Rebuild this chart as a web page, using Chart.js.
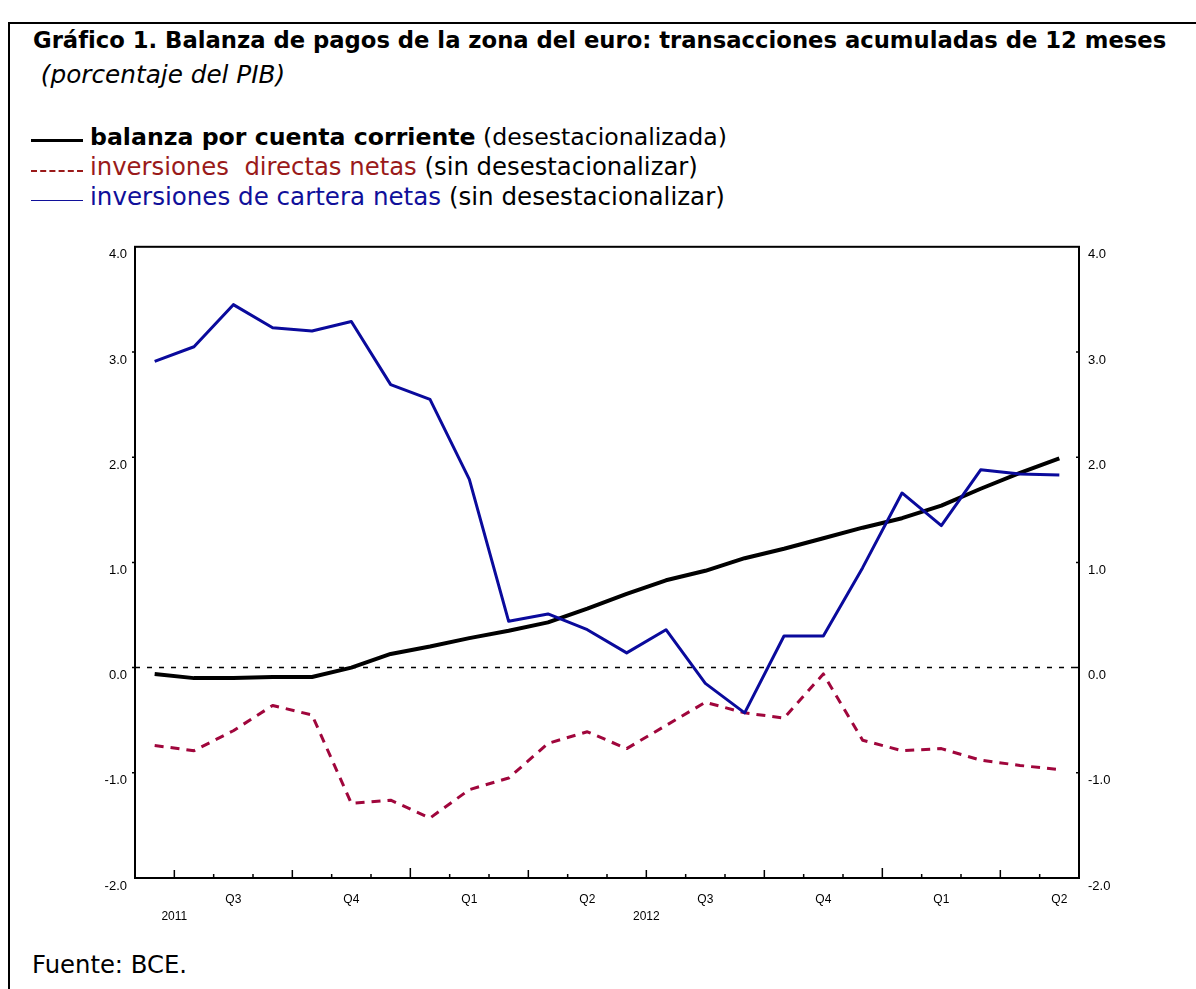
<!DOCTYPE html>
<html lang="es">
<head>
<meta charset="utf-8">
<title>Balanza de pagos de la zona del euro</title>
<script src="https://cdn.jsdelivr.net/npm/chart.js@4.4.0/dist/chart.umd.min.js"></script>
<style>
  html, body { margin: 0; padding: 0; background: #fff; }
  body { width: 1196px; height: 989px; position: relative; overflow: hidden; font-family: "DejaVu Sans", sans-serif; color: #000; }
  #frame { position: absolute; left: 8px; top: 22px; width: 1200px; height: 1000px; border-left: 2px solid #000; border-top: 2px solid #000; }
  .txt { position: absolute; white-space: nowrap; line-height: 30px; height: 30px; }
  #title { left: 33px; top: 25px; font-weight: bold; }
  #subtitle { left: 33px; top: 60px; font-style: italic; }
  .leg { left: 31px; }
  .swatch { display: inline-block; width: 52px; height: 0; vertical-align: middle; margin-right: 7px; }
  #footer { left: 32px; top: 950px; }
  #wrap { position: absolute; left: 0; top: 230px; width: 1196px; height: 720px; }
</style>
</head>
<body>
<div id="frame"></div>
<div id="title" class="txt" data-w="1133">Gráfico 1. Balanza de pagos de la zona del euro: transacciones acumuladas de 12 meses</div>
<div id="subtitle" class="txt" data-w="252">&nbsp;(porcentaje del PIB)</div>
<div class="txt leg" style="top:122px"><span class="swatch" style="border-top:3px solid #000"></span><span class="fit" data-w="637"><b>balanza por cuenta corriente</b> (desestacionalizada)</span></div>
<div class="txt leg" style="top:152px"><span class="swatch" style="border-top:2px dashed #9a1a1a"></span><span class="fit" data-w="608"><span style="color:#9a1a1a">inversiones&nbsp; directas netas</span> (sin desestacionalizar)</span></div>
<div class="txt leg" style="top:182px"><span class="swatch" style="border-top:1.5px solid #10109a"></span><span class="fit" data-w="635"><span style="color:#10109a">inversiones de cartera netas</span> (sin desestacionalizar)</span></div>
<div id="footer" class="txt" data-w="155">Fuente: BCE.</div>
<div id="wrap"><canvas id="grafico" width="1196" height="720"></canvas></div>

<script>
// meses: jun 2011 - may 2013
const months = [
  "Jun 2011", "Jul 2011", "Ago 2011", "Sep 2011", "Oct 2011", "Nov 2011", "Dic 2011",
  "Ene 2012", "Feb 2012", "Mar 2012", "Abr 2012", "May 2012", "Jun 2012",
  "Jul 2012", "Ago 2012", "Sep 2012", "Oct 2012", "Nov 2012", "Dic 2012",
  "Ene 2013", "Feb 2013", "Mar 2013", "Abr 2013", "May 2013"
];
const quarterLabels = ["", "", "Q3", "", "", "Q4", "", "", "Q1", "", "", "Q2",
                       "", "", "Q3", "", "", "Q4", "", "", "Q1", "", "", "Q2"];
const yearLabels = ["2011", "2012"];

const cuentaCorriente = [-0.06, -0.10, -0.10, -0.09, -0.09, 0.00, 0.13, 0.20, 0.28, 0.35, 0.43, 0.56,
                         0.70, 0.83, 0.92, 1.04, 1.13, 1.23, 1.33, 1.42, 1.54, 1.70, 1.85, 1.99];
const inversionesDirectas = [-0.74, -0.79, -0.60, -0.36, -0.45, -1.29, -1.26, -1.43, -1.16, -1.05, -0.72, -0.61,
                             -0.77, -0.55, -0.33, -0.43, -0.48, -0.06, -0.69, -0.79, -0.77, -0.88, -0.93, -0.97];
const inversionesCartera = [2.91, 3.05, 3.45, 3.23, 3.20, 3.29, 2.69, 2.55, 1.79, 0.44, 0.51, 0.36,
                            0.14, 0.36, -0.15, -0.43, 0.30, 0.30, 0.95, 1.66, 1.35, 1.88, 1.84, 1.83];

const yMin = -2, yMax = 4;

// ajustar tamaño de letra al ancho del original
function fitWidth(el, target) {
  let size = 20;
  el.style.fontSize = size + "px";
  for (let i = 0; i < 4; i++) {
    const w = el.getBoundingClientRect().width;
    size = size * target / w;
    el.style.fontSize = size + "px";
  }
}
document.querySelectorAll("[data-w]").forEach((el) => fitWidth(el, +el.dataset.w));

const tickFont = { family: "Liberation Sans", size: 12 };
const yFont = { family: "Liberation Sans", size: 13 };

const decoraciones = {
  id: "decoraciones",
  beforeDatasetsDraw(chart) {
    const { ctx, chartArea: a, scales: { y } } = chart;
    const y0 = y.getPixelForValue(0);
    ctx.save();
    ctx.strokeStyle = "#000";
    ctx.lineWidth = 1.5;
    ctx.setLineDash([5, 7]);
    ctx.beginPath();
    ctx.moveTo(a.left, y0);
    ctx.lineTo(a.right, y0);
    ctx.stroke();
    ctx.restore();
  },
  afterDraw(chart) {
    const { ctx, chartArea: a, scales: { x, y } } = chart;
    ctx.save();
    ctx.strokeStyle = "#000";
    ctx.lineWidth = 2;
    ctx.strokeRect(a.left, a.top, a.width, a.height);

    // marcas del eje x entre meses
    ctx.lineWidth = 1.5;
    for (let k = 1; k < months.length; k++) {
      const xb = (x.getPixelForValue(k - 1) + x.getPixelForValue(k)) / 2;
      const m = months[k].slice(0, 3);
      let len = 4;
      if (m === "Ene") len = 10;
      else if (m === "Abr" || m === "Jul" || m === "Oct") len = 8;
      ctx.beginPath();
      ctx.moveTo(xb, a.bottom);
      ctx.lineTo(xb, a.bottom - len);
      ctx.stroke();
    }

    // marcas del eje y
    for (let v = yMin + 1; v < yMax; v++) {
      const py = y.getPixelForValue(v);
      ctx.beginPath();
      ctx.moveTo(a.left - 3, py);
      ctx.lineTo(a.left, py);
      ctx.moveTo(a.right - 3, py);
      ctx.lineTo(a.right, py);
      ctx.stroke();
    }

    // años, centrados a mitad de año
    ctx.fillStyle = "#000";
    ctx.font = tickFont.size + "px " + tickFont.family;
    ctx.textAlign = "center";
    ctx.textBaseline = "middle";
    yearLabels.forEach((yr) => {
      const idx = months.indexOf("Jul " + yr) - 0.5;
      ctx.fillText(yr, x.getPixelForValue(idx), a.bottom + 39);
    });
    ctx.restore();
  },
};

const yTicks = {
  stepSize: 1,
  color: "#000",
  font: yFont,
  labelOffset: 8,
  callback: (v) => v.toFixed(1),
};

new Chart(document.getElementById("grafico"), {
  type: "line",
  data: {
    labels: months,
    datasets: [
      {
        label: "inversiones de cartera netas",
        data: inversionesCartera,
        borderColor: "#0a0a9c",
        borderWidth: 3,
      },
      {
        label: "inversiones directas netas",
        data: inversionesDirectas,
        borderColor: "#a0063c",
        borderWidth: 3,
        borderDash: [9, 7],
      },
      {
        label: "balanza por cuenta corriente",
        data: cuentaCorriente,
        borderColor: "#000",
        borderWidth: 4,
      },
    ],
  },
  options: {
    responsive: false,
    animation: false,
    layout: { padding: { top: 16, left: 0, right: 0, bottom: 0 } },
    elements: { point: { radius: 0 }, line: { tension: 0, borderJoinStyle: "round" } },
    plugins: { legend: { display: false }, tooltip: { enabled: false } },
    scales: {
      x: {
        offset: true,
        grid: { display: false, drawTicks: false },
        border: { display: false },
        ticks: {
          autoSkip: false,
          maxRotation: 0,
          padding: 14,
          color: "#000",
          font: tickFont,
          callback: (v, i) => quarterLabels[i],
        },
        afterFit: (s) => { s.height = 72; },
      },
      y: {
        position: "left",
        min: yMin,
        max: yMax,
        grid: { display: false, drawTicks: false },
        border: { display: false },
        ticks: { ...yTicks, padding: 8 },
        afterFit: (s) => { s.width = 135; },
      },
      y2: {
        position: "right",
        min: yMin,
        max: yMax,
        grid: { display: false, drawTicks: false },
        border: { display: false },
        ticks: { ...yTicks, padding: 9 },
        afterFit: (s) => { s.width = 117; },
      },
    },
  },
  plugins: [decoraciones],
});
</script>
</body>
</html>
